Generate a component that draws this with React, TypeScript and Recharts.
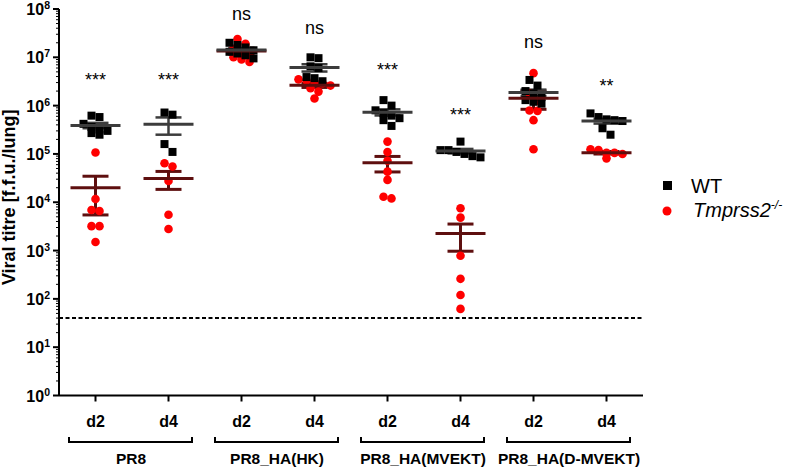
import React from 'react';
import { ComposedChart, Scatter, XAxis, YAxis, ErrorBar, ReferenceLine, Legend } from 'recharts';

// ---------- data ----------
const days = ['d2', 'd4', 'd2', 'd4', 'd2', 'd4', 'd2', 'd4'];
const groups = ['PR8', 'PR8_HA(HK)', 'PR8_HA(MVEKT)', 'PR8_HA(D-MVEKT)'];
const groupCentres = [0.5, 2.5, 4.5, 6.5];

const wtTitres = [
  [6.2e5, 5.8e5, 4.2e5, 3.6e5, 3.2e5, 3.0e5, 2.7e5, 2.5e5],
  [7.2e5, 6.5e5, 1.6e5, 1.1e5],
  [2.0e7, 1.8e7, 1.6e7, 1.4e7, 1.3e7, 1.2e7, 1.1e7, 9.5e6],
  [1.0e7, 9.6e6, 6.5e6, 6.0e6, 3.9e6, 3.7e6, 3.2e6],
  [1.3e6, 1.0e6, 8.0e5, 7.0e5, 6.2e5, 5.5e5, 5.0e5, 3.8e5],
  [1.8e5, 1.2e5, 1.2e5, 1.1e5, 1.0e5, 9.0e4, 8.5e4],
  [3.4e6, 2.6e6, 2.0e6, 1.8e6, 1.5e6, 1.3e6, 1.2e6, 1.1e6],
  [6.9e5, 5.8e5, 5.2e5, 5.0e5, 4.8e5, 3.4e5, 2.5e5],
];
const koTitres = [
  [1.07e5, 1.17e4, 6.9e3, 6.6e3, 3.2e3, 3.2e3, 1.5e3],
  [6.4e4, 5.5e4, 2.75e4, 5.5e3, 2.8e3],
  [2.4e7, 1.9e7, 1.5e7, 1.2e7, 1.1e7, 1.0e7, 9.0e6, 8.0e6],
  [3.5e6, 3.3e6, 3.1e6, 2.9e6, 2.6e6, 2.3e6, 1.95e6, 1.4e6],
  [1.8e5, 1.1e5, 7.2e4, 4.3e4, 2.9e4, 1.3e4, 1.2e4],
  [7.5e3, 4.8e3, 7.8e2, 2.6e2, 1.2e2, 6.2e1],
  [4.7e6, 1.8e6, 1.26e6, 7.9e5, 7.8e5, 5.0e5, 1.25e5],
  [1.25e5, 1.2e5, 1.05e5, 1.05e5, 1.0e5, 8.1e4],
];
const sigLabels = ['***', '***', 'ns', 'ns', '***', '***', 'ns', '**'];
const sigLevels = [2.6e6, 2.6e6, 5.9e7, 3.0e7, 4.1e6, 4.8e5, 1.56e7, 1.9e6];
const detectionLimit = 40;
const yTitle = 'Viral titre [f.f.u./lung]';
const legendItems = [
  { name: 'WT', sup: '', italic: false, shape: 'square' },
  { name: 'Tmprss2', sup: '-/-', italic: true, shape: 'circle' },
];

// ---------- layout / style ----------
const WIDTH = 787;
const HEIGHT = 467;
const MARGIN = { top: 9, right: 144, bottom: 0, left: 0 };
const Y_AXIS_W = 59;
const X_AXIS_H = 36;
const GROUP_AXIS_H = 35.5;
const PLOT_W = WIDTH - MARGIN.left - MARGIN.right - Y_AXIS_W;
const PLOT_H = HEIGHT - MARGIN.top - MARGIN.bottom - X_AXIS_H - GROUP_AXIS_H;
const Y_DECADES = 8;
const PX_PER_DECADE = PLOT_H / Y_DECADES;
const PX_PER_CAT = PLOT_W / days.length;
const POINT_GAP = 8;
const ROW_H = 8;
const FONT = '"Liberation Sans", Arial, Helvetica, sans-serif';
const RED = '#ff0000';
const WT_MEAN = '#3c3c3c';
const KO_MEAN = '#5e0f0f';
const DAY_AXIS = 'a_days';
const GROUP_AXIS = 'b_groups';

// beeswarm-style horizontal spreading (Prism column scatter)
function swarm(values: number[], cat: number) {
  const sorted = values
    .map((v) => ({ v, py: Math.log10(v) * PX_PER_DECADE }))
    .sort((a, b) => b.py - a.py);
  const rows: { v: number; py: number }[][] = [];
  let cur: { v: number; py: number }[] = [];
  for (const p of sorted) {
    if (cur.length && cur[0].py - p.py > ROW_H) {
      rows.push(cur);
      cur = [];
    }
    cur.push(p);
  }
  if (cur.length) rows.push(cur);
  const out: { x: number; y: number }[] = [];
  rows.forEach((row) =>
    row.forEach((p, i) => {
      const off = (i - (row.length - 1) / 2) * POINT_GAP;
      out.push({ x: cat + off / PX_PER_CAT, y: p.v });
    })
  );
  return out;
}

function meanSem(vals: number[]) {
  const n = vals.length;
  const mean = vals.reduce((a, b) => a + b, 0) / n;
  const sd = Math.sqrt(vals.reduce((a, b) => a + (b - mean) ** 2, 0) / (n - 1));
  return { mean, sem: sd / Math.sqrt(n) };
}

const wtPoints = wtTitres.flatMap((vals, i) => swarm(vals, i));
const koPoints = koTitres.flatMap((vals, i) => swarm(vals, i));
const wtMeans = wtTitres.map((vals, i) => {
  const { mean, sem } = meanSem(vals);
  return { x: i, y: mean, err: sem };
});
const koMeans = koTitres.map((vals, i) => {
  const { mean, sem } = meanSem(vals);
  return { x: i, y: mean, err: sem };
});
const sigData = days.map((_, i) => ({ x: i, y: sigLevels[i], label: sigLabels[i] }));

const yTicks: number[] = [];
for (let n = 0; n < Y_DECADES; n++) for (let k = 1; k <= 9; k++) yTicks.push(k * Math.pow(10, n));
yTicks.push(Math.pow(10, Y_DECADES));

// ---------- shapes ----------
const Square = (p: any) => <rect x={p.cx - 4} y={p.cy - 4} width={8} height={8} fill="#000" />;
const Dot = (p: any) => <circle cx={p.cx} cy={p.cy} r={4.3} fill={RED} />;
const meanLine = (color: string) => (p: any) =>
  <line x1={p.cx - 25} x2={p.cx + 25} y1={p.cy} y2={p.cy} stroke={color} strokeWidth={3} />;
const SigText = (p: any) => (
  <text x={p.cx} y={p.cy} textAnchor="middle" fontSize={18} fontFamily={FONT} fill="#000">
    {(p.payload && p.payload.label) || p.label}
  </text>
);

const YTick = (props: any) => {
  const { x, y, payload } = props;
  const v = payload.value;
  const lg = Math.log10(v);
  const major = Math.abs(lg - Math.round(lg)) < 1e-9;
  return (
    <g>
      <line x1={x - (major ? 6 : 3)} x2={x} y1={y} y2={y} stroke="#000" strokeWidth={major ? 2 : 1} />
      {major && (
        <text x={x - 9} y={y} textAnchor="end" fontFamily={FONT} fontWeight="bold" fontSize={16} fill="#000">
          <tspan dy={6}>10</tspan>
          <tspan dy={-6} fontSize={10.5}>{Math.round(lg)}</tspan>
        </text>
      )}
    </g>
  );
};

const XTick = (props: any) => {
  const { x, y, payload } = props;
  return (
    <text x={x} y={y + 23} textAnchor="middle" fontFamily={FONT} fontWeight="bold" fontSize={16} fill="#000">
      {days[payload.value]}
    </text>
  );
};

const GroupTick = (props: any) => {
  const { x, y, payload } = props;
  const idx = groupCentres.indexOf(payload.value);
  return (
    <g>
      <path
        d={`M${x - 63},${y + 5.5} L${x - 63},${y + 10.5} L${x + 60},${y + 10.5} L${x + 60},${y + 5.5}`}
        fill="none"
        stroke="#000"
        strokeWidth={2}
      />
      <text x={x - 1} y={y + 32} textAnchor="middle" fontFamily={FONT} fontWeight="bold" fontSize={15.5} fill="#000">
        {groups[idx]}
      </text>
    </g>
  );
};

const YTitle = (props: any) => {
  const vb = props.viewBox || { x: 0, y: MARGIN.top, width: Y_AXIS_W, height: PLOT_H };
  const cx = vb.x + 15;
  const cy = vb.y + vb.height / 2 - 5;
  return (
    <text
      x={cx}
      y={cy}
      transform={`rotate(-90 ${cx} ${cy})`}
      textAnchor="middle"
      fontFamily={FONT}
      fontWeight="bold"
      fontSize={18}
      fill="#000"
    >
      {yTitle}
    </text>
  );
};

const renderLegend = () => (
  <svg width={132} height={60} style={{ display: 'block', overflow: 'visible' }}>
    {legendItems.map((it, i) => {
      const cy = 15.5 + i * 25.5;
      return (
        <g key={it.name}>
          {it.shape === 'square' ? (
            <rect x={8} y={cy - 4.5} width={9} height={9} fill="#000" />
          ) : (
            <circle cx={12} cy={cy} r={4.5} fill={RED} />
          )}
          <text
            x={it.italic ? 38 : 36}
            y={cy + 7.5 - i * 2}
            fontFamily={FONT}
            fontSize={20}
            fontStyle={it.italic ? 'italic' : 'normal'}
            fill="#000"
          >
            {it.name}
            {it.sup && (
              <tspan dy={-8} fontSize={12}>
                {it.sup}
              </tspan>
            )}
          </text>
        </g>
      );
    })}
  </svg>
);

export default function App() {
  return (
    <div style={{ position: 'absolute', left: 0, top: 0, background: '#fff' }}>
      <ComposedChart width={WIDTH} height={HEIGHT} margin={MARGIN} style={{ fontFamily: FONT }}>
        <XAxis
          xAxisId={DAY_AXIS}
          dataKey="x"
          type="number"
          domain={[-0.5, days.length - 0.5]}
          ticks={days.map((_, i) => i)}
          interval={0}
          height={X_AXIS_H}
          axisLine={{ stroke: '#000', strokeWidth: 2 }}
          tickLine={{ stroke: '#000', strokeWidth: 2 }}
          tickSize={6}
          tickMargin={2}
          tick={<XTick />}
          allowDataOverflow
        />
        <XAxis
          xAxisId={GROUP_AXIS}
          dataKey="x"
          type="number"
          domain={[-0.5, days.length - 0.5]}
          ticks={groupCentres}
          interval={0}
          height={GROUP_AXIS_H}
          axisLine={false}
          tickLine={false}
          tickSize={0}
          tickMargin={0}
          tick={<GroupTick />}
          allowDataOverflow
        />
        <YAxis
          dataKey="y"
          type="number"
          scale="log"
          domain={[1, Math.pow(10, Y_DECADES)]}
          ticks={yTicks}
          interval={0}
          width={Y_AXIS_W}
          axisLine={{ stroke: '#000', strokeWidth: 2 }}
          tickLine={false}
          tickSize={0}
          tickMargin={0}
          tick={<YTick />}
          label={<YTitle />}
          allowDataOverflow
        />
        <ReferenceLine
          xAxisId={DAY_AXIS}
          y={detectionLimit}
          stroke="#000"
          strokeWidth={2}
          strokeDasharray="4 2.5"
        />
        <Scatter xAxisId={DAY_AXIS} name="Tmprss2" data={koPoints} shape={Dot} isAnimationActive={false} />
        <Scatter xAxisId={DAY_AXIS} name="WT" data={wtPoints} shape={Square} isAnimationActive={false} />
        <Scatter xAxisId={DAY_AXIS} data={koMeans} shape={meanLine(KO_MEAN)} legendType="none" isAnimationActive={false}>
          <ErrorBar dataKey="err" direction="y" width={13} stroke={KO_MEAN} strokeWidth={3} isAnimationActive={false} />
        </Scatter>
        <Scatter xAxisId={DAY_AXIS} data={wtMeans} shape={meanLine(WT_MEAN)} legendType="none" isAnimationActive={false}>
          <ErrorBar dataKey="err" direction="y" width={13} stroke={WT_MEAN} strokeWidth={2.5} isAnimationActive={false} />
        </Scatter>
        <Scatter xAxisId={DAY_AXIS} data={sigData} shape={SigText} legendType="none" isAnimationActive={false} />
        <Legend
          layout="vertical"
          align="center"
          verticalAlign="middle"
          content={renderLegend}
          wrapperStyle={{ position: 'absolute', left: 655, top: 170, width: 132, height: 60 }}
        />
      </ComposedChart>
    </div>
  );
}
